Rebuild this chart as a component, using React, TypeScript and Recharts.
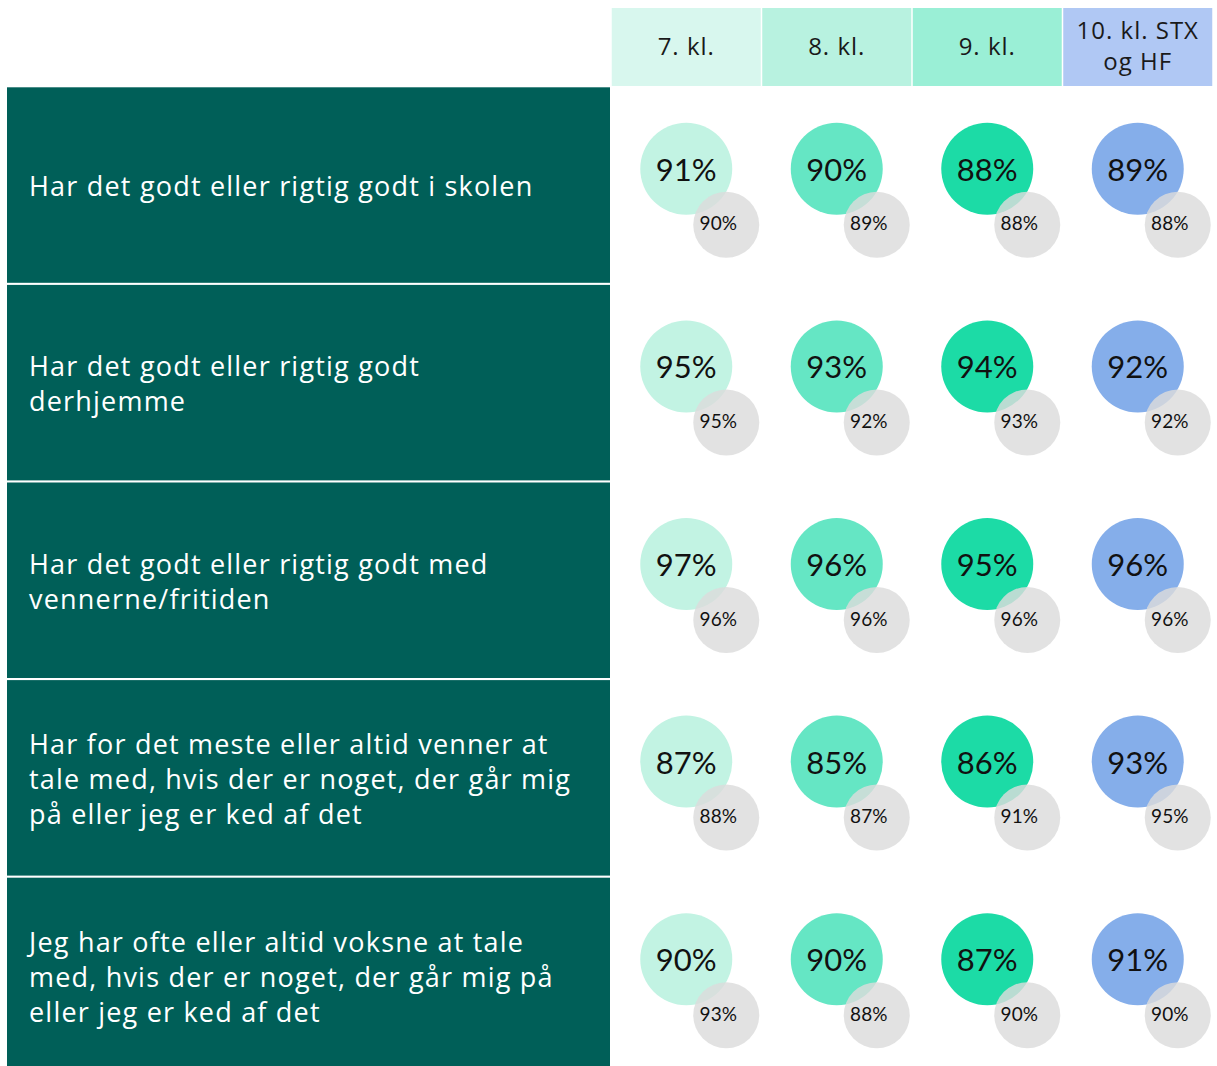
import { ScatterChart, Scatter, XAxis, YAxis } from "recharts";

const GRADES = ["7. kl.", "8. kl.", "9. kl.", "10. kl. STX|og HF"];
const STATEMENTS = [
  ["Har det godt eller rigtig godt i skolen"],
  ["Har det godt eller rigtig godt", "derhjemme"],
  ["Har det godt eller rigtig godt med", "vennerne/fritiden"],
  ["Har for det meste eller altid venner at", "tale med, hvis der er noget, der går mig", "på eller jeg er ked af det"],
  ["Jeg har ofte eller altid voksne at tale", "med, hvis der er noget, der går mig på", "eller jeg er ked af det"],
];

// current survey, one array per grade (rows top to bottom)
const CURRENT = [
  [91, 95, 97, 87, 90],
  [90, 93, 96, 85, 90],
  [88, 94, 95, 86, 87],
  [89, 92, 96, 93, 91],
];
// previous survey (grey circles)
const PREVIOUS = [
  [90, 95, 96, 88, 93],
  [89, 92, 96, 87, 88],
  [88, 93, 96, 91, 90],
  [88, 92, 96, 95, 90],
];

const HEADER_COLORS = ["#d8f7ee", "#b8f2e0", "#9aefd6", "#b0c8f4"];
const CIRCLE_COLORS = ["#c2f3e3", "#65e6c4", "#1cdba6", "#85aeea"];
const ROW_FILL = "#005f58";
const FONT = "Lato, 'Open Sans', sans-serif";
const LABEL_FONT = "'Open Sans', Lato, sans-serif";

const current = CURRENT.flatMap((col, c) => col.map((v, r) => ({ col: c, row: r, value: v })));
const previous = PREVIOUS.flatMap((col, c) => col.map((v, r) => ({ col: c, row: r, value: v })));

function HeaderTick(props: any) {
  const { x, payload } = props;
  const lines = GRADES[payload.value].split("|");
  const i = payload.value;
  return (
    <g>
      <rect x={x - 74.5} y={8} width={149} height={78} fill={HEADER_COLORS[i]} />
      {lines.map((l, k) => (
        <text
          key={k}
          x={x}
          y={45 + (k - (lines.length - 1) / 2) * 31}
          textAnchor="middle"
          dominantBaseline="central"
          fontFamily={LABEL_FONT}
          fontSize={24}
          letterSpacing={1}
          fill="#1a1a1a"
        >
          {l}
        </text>
      ))}
    </g>
  );
}

function RowTick(props: any) {
  const { y, payload } = props;
  const lines = STATEMENTS[payload.value];
  return (
    <g>
      <rect x={7} y={y - 98.5} width={603} height={195.5} fill={ROW_FILL} />
      {lines.map((l, k) => (
        <text
          key={k}
          x={29}
          y={y + (k - (lines.length - 1) / 2) * 35}
          dominantBaseline="central"
          fontFamily={LABEL_FONT}
          fontSize={27}
          letterSpacing={1.2}
          fill="#ffffff"
        >
          {l}
        </text>
      ))}
    </g>
  );
}

function BigCircle(props: any) {
  const { cx, cy, payload } = props;
  const y = cy - 17;
  return (
    <g>
      <circle cx={cx} cy={y} r={46} fill={CIRCLE_COLORS[payload.col]} />
      <text x={cx} y={y} textAnchor="middle" dominantBaseline="central" fontFamily={FONT} fontSize={31} fill="#111">
        {payload.value}%
      </text>
    </g>
  );
}

function SmallCircle(props: any) {
  const { cx, cy, payload } = props;
  const x = cx + 40;
  const y = cy + 39;
  return (
    <g>
      <circle cx={x} cy={y} r={33} fill="#dcdcdc" fillOpacity={0.82} />
      <text x={x - 8} y={y - 2} textAnchor="middle" dominantBaseline="central" fontFamily={FONT} fontSize={19} fill="#111">
        {payload.value}%
      </text>
    </g>
  );
}

export default function App() {
  return (
    <div style={{ position: "absolute", left: 0, top: 0, width: 1217, height: 1066, overflow: "hidden", background: "#fff" }}>
      <ScatterChart width={1217} height={1075} margin={{ top: 0, right: 4, bottom: 0, left: 0 }}>
        <XAxis
          type="number"
          dataKey="col"
          orientation="top"
          domain={[-0.5, 3.5]}
          ticks={[0, 1, 2, 3]}
          interval={0}
          height={87}
          axisLine={false}
          tickLine={false}
          tick={(p: any) => <HeaderTick {...p} />}
        />
        <YAxis
          type="number"
          dataKey="row"
          domain={[-0.5, 4.5]}
          reversed
          ticks={[0, 1, 2, 3, 4]}
          interval={0}
          width={611}
          axisLine={false}
          tickLine={false}
          tick={(p: any) => <RowTick {...p} />}
        />
        <Scatter data={current} isAnimationActive={false} shape={(p: any) => <BigCircle {...p} />} />
        <Scatter data={previous} isAnimationActive={false} shape={(p: any) => <SmallCircle {...p} />} />
      </ScatterChart>
    </div>
  );
}
